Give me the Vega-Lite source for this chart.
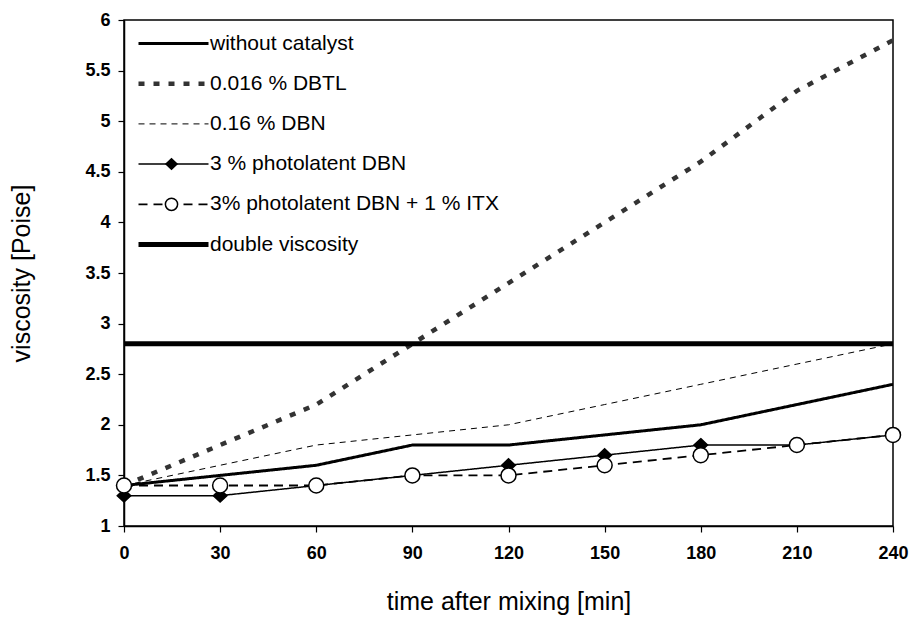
{
  "$schema": "https://vega.github.io/schema/vega-lite/v6.json",
  "width": 769,
  "height": 506,
  "autosize": "none",
  "padding": {"left": 124, "top": 20, "right": 22, "bottom": 95},
  "background": "white",
  "config": {
    "view": {"stroke": "black", "strokeWidth": 1.5},
    "font": "Liberation Sans"
  },
  "data": {
    "values": [
      {"time": 0, "viscosity": 1.4, "series": "without catalyst"},
      {"time": 30, "viscosity": 1.5, "series": "without catalyst"},
      {"time": 60, "viscosity": 1.6, "series": "without catalyst"},
      {"time": 90, "viscosity": 1.8, "series": "without catalyst"},
      {"time": 120, "viscosity": 1.8, "series": "without catalyst"},
      {"time": 150, "viscosity": 1.9, "series": "without catalyst"},
      {"time": 180, "viscosity": 2.0, "series": "without catalyst"},
      {"time": 210, "viscosity": 2.2, "series": "without catalyst"},
      {"time": 240, "viscosity": 2.4, "series": "without catalyst"},
      {"time": 0, "viscosity": 1.4, "series": "0.016 % DBTL"},
      {"time": 30, "viscosity": 1.8, "series": "0.016 % DBTL"},
      {"time": 60, "viscosity": 2.2, "series": "0.016 % DBTL"},
      {"time": 90, "viscosity": 2.8, "series": "0.016 % DBTL"},
      {"time": 120, "viscosity": 3.4, "series": "0.016 % DBTL"},
      {"time": 150, "viscosity": 4.0, "series": "0.016 % DBTL"},
      {"time": 180, "viscosity": 4.6, "series": "0.016 % DBTL"},
      {"time": 210, "viscosity": 5.3, "series": "0.016 % DBTL"},
      {"time": 240, "viscosity": 5.8, "series": "0.016 % DBTL"},
      {"time": 0, "viscosity": 1.4, "series": "0.16 % DBN"},
      {"time": 30, "viscosity": 1.6, "series": "0.16 % DBN"},
      {"time": 60, "viscosity": 1.8, "series": "0.16 % DBN"},
      {"time": 90, "viscosity": 1.9, "series": "0.16 % DBN"},
      {"time": 120, "viscosity": 2.0, "series": "0.16 % DBN"},
      {"time": 150, "viscosity": 2.2, "series": "0.16 % DBN"},
      {"time": 180, "viscosity": 2.4, "series": "0.16 % DBN"},
      {"time": 210, "viscosity": 2.6, "series": "0.16 % DBN"},
      {"time": 240, "viscosity": 2.8, "series": "0.16 % DBN"},
      {"time": 0, "viscosity": 1.3, "series": "3 % photolatent DBN"},
      {"time": 30, "viscosity": 1.3, "series": "3 % photolatent DBN"},
      {"time": 60, "viscosity": 1.4, "series": "3 % photolatent DBN"},
      {"time": 90, "viscosity": 1.5, "series": "3 % photolatent DBN"},
      {"time": 120, "viscosity": 1.6, "series": "3 % photolatent DBN"},
      {"time": 150, "viscosity": 1.7, "series": "3 % photolatent DBN"},
      {"time": 180, "viscosity": 1.8, "series": "3 % photolatent DBN"},
      {"time": 210, "viscosity": 1.8, "series": "3 % photolatent DBN"},
      {"time": 240, "viscosity": 1.9, "series": "3 % photolatent DBN"},
      {"time": 0, "viscosity": 1.4, "series": "3% photolatent DBN + 1 % ITX"},
      {"time": 30, "viscosity": 1.4, "series": "3% photolatent DBN + 1 % ITX"},
      {"time": 60, "viscosity": 1.4, "series": "3% photolatent DBN + 1 % ITX"},
      {"time": 90, "viscosity": 1.5, "series": "3% photolatent DBN + 1 % ITX"},
      {"time": 120, "viscosity": 1.5, "series": "3% photolatent DBN + 1 % ITX"},
      {"time": 150, "viscosity": 1.6, "series": "3% photolatent DBN + 1 % ITX"},
      {"time": 180, "viscosity": 1.7, "series": "3% photolatent DBN + 1 % ITX"},
      {"time": 210, "viscosity": 1.8, "series": "3% photolatent DBN + 1 % ITX"},
      {"time": 240, "viscosity": 1.9, "series": "3% photolatent DBN + 1 % ITX"},
      {"time": 0, "viscosity": 2.8, "series": "double viscosity"},
      {"time": 240, "viscosity": 2.8, "series": "double viscosity"}
    ]
  },
  "encoding": {
    "x": {
      "field": "time", "type": "quantitative",
      "scale": {"domain": [0, 240], "nice": false, "zero": false},
      "axis": {
        "values": [0, 30, 60, 90, 120, 150, 180, 210, 240],
        "grid": false, "domainColor": "black", "domainWidth": 1.5,
        "tickColor": "black", "tickSize": 6, "tickWidth": 1.2,
        "labelFont": "Liberation Sans", "labelFontWeight": "bold", "labelFontSize": 18, "labelColor": "black",
        "labelPadding": 12, "labelFlush": false,
        "title": "time after mixing [min]", "titleFont": "Liberation Sans", "titleFontWeight": "normal",
        "titleFontSize": 25, "titleColor": "black", "titlePadding": 27
      }
    },
    "y": {
      "field": "viscosity", "type": "quantitative",
      "scale": {"domain": [1, 6], "nice": false, "zero": false},
      "axis": {
        "values": [1, 1.5, 2, 2.5, 3, 3.5, 4, 4.5, 5, 5.5, 6],
        "format": "~g",
        "grid": false, "domainColor": "black", "domainWidth": 1.5,
        "tickColor": "black", "tickSize": 6, "tickWidth": 1.2,
        "labelFont": "Liberation Sans", "labelFontWeight": "bold", "labelFontSize": 18, "labelColor": "black",
        "labelPadding": 8, "labelFlush": false,
        "title": "viscosity [Poise]", "titleFont": "Liberation Sans", "titleFontWeight": "normal",
        "titleFontSize": 25, "titleColor": "black", "titlePadding": 50
      }
    }
  },
  "layer": [
    {
      "mark": {"type": "line", "clip": true},
      "encoding": {
        "color": {
          "field": "series", "type": "nominal",
          "scale": {
            "type": "ordinal",
            "domain": ["without catalyst", "0.016 % DBTL", "0.16 % DBN", "3 % photolatent DBN", "3% photolatent DBN + 1 % ITX", "double viscosity"],
            "range": ["black", "#333333", "black", "black", "black", "black"]
          },
          "legend": {
            "orient": "none", "legendX": 39, "legendY": 13, "title": null, "padding": 0,
            "labelFont": "Liberation Sans", "labelFontSize": 21, "labelColor": "black", "labelOffset": 26, "labelLimit": 500,
            "rowPadding": 18.2, "symbolType": "M-17.5,0L17.5,0", "symbolSize": 16, "symbolOpacity": 1
          }
        },
        "strokeDash": {
          "field": "series", "type": "nominal",
          "scale": {
            "type": "ordinal",
            "domain": ["without catalyst", "0.016 % DBTL", "0.16 % DBN", "3 % photolatent DBN", "3% photolatent DBN + 1 % ITX", "double viscosity"],
            "range": [[1, 0], [6, 9], [6, 5], [1, 0], [9, 6], [1, 0]]
          },
          "legend": {
            "orient": "none", "legendX": 39, "legendY": 13, "title": null, "padding": 0,
            "labelFont": "Liberation Sans", "labelFontSize": 21, "labelColor": "black", "labelOffset": 26, "labelLimit": 500,
            "rowPadding": 18.2, "symbolType": "M-17.5,0L17.5,0", "symbolSize": 16, "symbolOpacity": 1
          }
        },
        "strokeWidth": {
          "field": "series", "type": "nominal",
          "scale": {
            "type": "ordinal",
            "domain": ["without catalyst", "0.016 % DBTL", "0.16 % DBN", "3 % photolatent DBN", "3% photolatent DBN + 1 % ITX", "double viscosity"],
            "range": [3, 4.5, 1, 1.5, 1.8, 5]
          },
          "legend": {
            "orient": "none", "legendX": 39, "legendY": 13, "title": null, "padding": 0,
            "labelFont": "Liberation Sans", "labelFontSize": 21, "labelColor": "black", "labelOffset": 26, "labelLimit": 500,
            "rowPadding": 18.2, "symbolType": "M-17.5,0L17.5,0", "symbolSize": 16, "symbolOpacity": 1
          }
        }
      }
    },
    {
      "transform": [{"filter": {"field": "series", "oneOf": ["3 % photolatent DBN", "3% photolatent DBN + 1 % ITX"]}}],
      "mark": {"type": "point", "filled": true, "strokeWidth": 1.5, "size": 225, "opacity": 1, "clip": false},
      "encoding": {
        "shape": {
          "field": "series", "type": "nominal",
          "scale": {
            "domain": ["without catalyst", "0.016 % DBTL", "0.16 % DBN", "3 % photolatent DBN", "3% photolatent DBN + 1 % ITX", "double viscosity", " "],
            "range": ["M0,0Z", "M0,0Z", "M0,0Z", "M0,-0.85L0.9,0L0,0.85L-0.9,0Z", "M-1,0A1,1,0,1,1,1,0A1,1,0,1,1,-1,0Z", "M0,0Z", "M0,0Z"]
          },
          "legend": {
            "orient": "none", "legendX": 37, "legendY": 13, "title": null, "padding": 0,
            "labelFont": "Liberation Sans", "labelFontSize": 21, "labelExpr": "''", "labelOffset": 26,
            "rowPadding": 18.2, "symbolSize": 150, "symbolStrokeWidth": 1.5, "symbolOpacity": 1
          }
        },
        "fill": {
          "field": "series", "type": "nominal",
          "scale": {
            "type": "ordinal",
            "domain": ["without catalyst", "0.016 % DBTL", "0.16 % DBN", "3 % photolatent DBN", "3% photolatent DBN + 1 % ITX", "double viscosity", " "],
            "range": ["transparent", "transparent", "transparent", "black", "white", "transparent", "transparent"]
          },
          "legend": {
            "orient": "none", "legendX": 37, "legendY": 13, "title": null, "padding": 0,
            "labelFont": "Liberation Sans", "labelFontSize": 21, "labelExpr": "''", "labelOffset": 26,
            "rowPadding": 18.2, "symbolSize": 150, "symbolStrokeWidth": 1.5, "symbolOpacity": 1
          }
        },
        "stroke": {
          "field": "series", "type": "nominal",
          "scale": {
            "type": "ordinal",
            "domain": ["without catalyst", "0.016 % DBTL", "0.16 % DBN", "3 % photolatent DBN", "3% photolatent DBN + 1 % ITX", "double viscosity", " "],
            "range": ["black", "black", "black", "black", "black", "black", "black"]
          },
          "legend": {
            "orient": "none", "legendX": 37, "legendY": 13, "title": null, "padding": 0,
            "labelFont": "Liberation Sans", "labelFontSize": 21, "labelExpr": "''", "labelOffset": 26,
            "rowPadding": 18.2, "symbolSize": 150, "symbolStrokeWidth": 1.5, "symbolOpacity": 1
          }
        }
      }
    }
  ]
}
